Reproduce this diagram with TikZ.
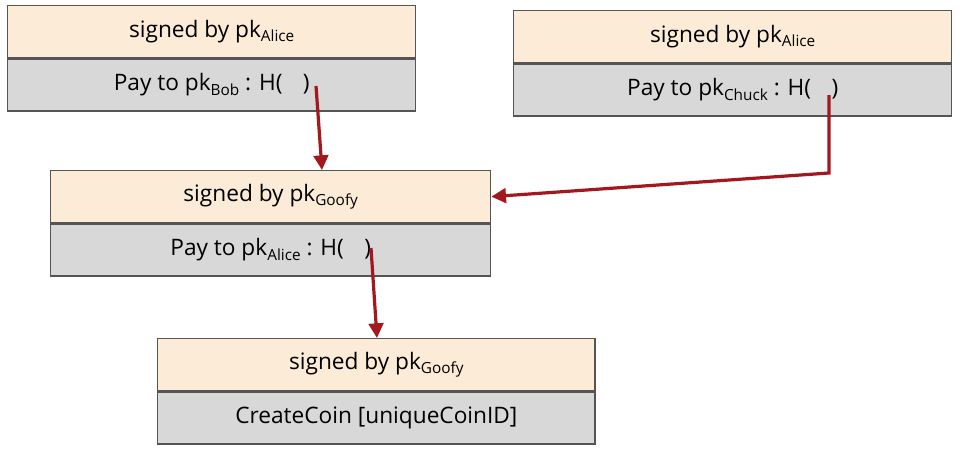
\documentclass[tikz,border=0pt]{standalone}
\usepackage{fontspec}
\setmainfont{Open Sans}
\usetikzlibrary{arrows.meta}
\definecolor{peach}{HTML}{FCEBD6}
\definecolor{graybox}{HTML}{D8D8D8}
\definecolor{arrred}{HTML}{A3171E}
\definecolor{edge}{HTML}{555555}
\tikzset{
 x=0.75pt,y=-0.75pt,
 sig/.style={draw=edge,line width=1pt,fill=peach,minimum height=39pt,inner sep=0pt,font=\fontsize{17}{20}\selectfont},
 pay/.style={draw=edge,line width=1pt,fill=graybox,minimum height=39pt,inner sep=0pt,font=\fontsize{17}{20}\selectfont},
 link/.style={draw=arrred,line width=2.4pt,-{Triangle[length=11pt,width=11pt]}}
}
\newcommand{\sbsc}[1]{\raisebox{-0.35ex}{\fontsize{11.5}{13}\selectfont #1}}
\begin{document}
\begin{tikzpicture}
\useasboundingbox (0,0) rectangle (960,451);
% box 1
\node[sig,minimum width=306pt,anchor=north west] (s1) at (7,5) {signed by pk\sbsc{Alice}};
\node[pay,minimum width=306pt,anchor=north] (p1) at (s1.south) {Pay to pk\sbsc{Bob} : H(\hspace{0.9em})};
% box 2
\node[sig,minimum width=328.5pt,anchor=north west] (s2) at (513,10) {signed by pk\sbsc{Alice}};
\node[pay,minimum width=328.5pt,anchor=north] (p2) at (s2.south) {Pay to pk\sbsc{Chuck} : H(\hspace{0.9em})};
% box 3
\node[sig,minimum width=330pt,anchor=north west] (s3) at (50,170) {signed by pk\sbsc{Goofy}};
\node[pay,minimum width=330pt,anchor=north] (p3) at (s3.south) {Pay to pk\sbsc{Alice} : H(\hspace{0.9em})};
% box 4
\node[sig,minimum width=328pt,anchor=north west] (s4) at (157,338) {signed by pk\sbsc{Goofy}};
\node[pay,minimum width=328pt,anchor=north] (p4) at (s4.south) {CreateCoin [uniqueCoinID]};
% connectors
\coordinate (h1) at (316,86);
\coordinate (h2) at (829,95);
\coordinate (b2) at (829,173);
\coordinate (h3) at (371,248);
\draw[link] (h1) -- (322,170);
\draw[link] (h2) -- (b2) -- (s3.east);
\draw[link] (h3) -- (377,338);
\end{tikzpicture}
\end{document}
